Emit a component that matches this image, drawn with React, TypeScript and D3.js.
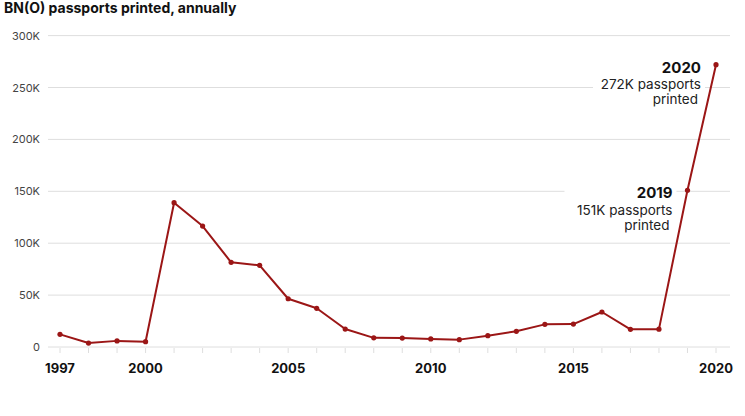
import * as d3 from 'd3'

// ── data ─────────────────────────────────────────────────────────────────────
const YEARS = [
  1997, 1998, 1999, 2000, 2001, 2002, 2003, 2004, 2005, 2006, 2007, 2008,
  2009, 2010, 2011, 2012, 2013, 2014, 2015, 2016, 2017, 2018, 2019, 2020,
]
const PRINTED = [
  12200, 3800, 5900, 5100, 139000, 116500, 81600, 78700, 46500, 37300, 17300, 8800,
  8600, 7800, 7100, 10900, 15100, 21800, 22100, 33700, 17000, 17200, 151000, 272000,
]
const Y_TICKS = [0, 50000, 100000, 150000, 200000, 250000, 300000]
const X_LABELS = [1997, 2000, 2005, 2010, 2015, 2020]
const TITLE = 'BN(O) passports printed, annually'
const NOTES = [
  { year: 2019, lines: ['151K passports', 'printed'] },
  { year: 2020, lines: ['272K passports', 'printed'] },
]

// ── constants ────────────────────────────────────────────────────────────────
const W = 745
const H = 416
const FONT = 'Inter, "Open Sans", sans-serif'
const C_LINE = '#9b1616'
const C_GRID = '#dedede'
const C_TICK = '#444'

export default function App() {
  const x = d3.scaleLinear().domain([1997, 2020]).range([60, 716])
  const y = d3.scaleLinear().domain([0, 300000]).range([347, 35.6])
  const pts = YEARS.map((yr, i) => ({ yr, v: PRINTED[i] }))
  const line = d3.line<typeof pts[0]>().x(d => x(d.yr)).y(d => y(d.v))

  return (
    <svg width={W} height={H} style={{ position: 'absolute', left: 0, top: 0, background: '#fff' }} fontFamily={FONT}>
      <text x={4} y={13} fontSize={14} fontWeight={700} fill="#111">{TITLE}</text>

      {/* grid */}
      {Y_TICKS.map(t => (
        <g key={t}>
          <line x1={48} x2={730} y1={y(t)} y2={y(t)} stroke={C_GRID} strokeWidth={1} />
          <text x={40} y={y(t) + 4} textAnchor="end" fontSize={11} fill={C_TICK}>
            {t === 0 ? '0' : `${t / 1000}K`}
          </text>
        </g>
      ))}

      {/* x ticks */}
      {YEARS.map(yr => (
        <line key={yr} x1={x(yr)} x2={x(yr)} y1={348} y2={353} stroke={C_GRID} />
      ))}
      {X_LABELS.map(yr => (
        <text key={yr} x={x(yr)} y={373} textAnchor="middle" fontSize={13} fontWeight={700} fill="#111">{yr}</text>
      ))}

      {/* annotations */}
      {NOTES.map(n => {
        const v = PRINTED[YEARS.indexOf(n.year)]
        const ax = x(n.year) - 15
        const ay = y(v) + 8
        return (
          <g key={n.year}>
            <rect x={ax - 108} y={ay - 15} width={112} height={50} fill="#fff" />
            <text x={ax} y={ay} textAnchor="end" fontSize={15} fontWeight={700} fill="#111">{n.year}</text>
            {n.lines.map((l, i) => (
              <text key={i} x={ax - (i === 1 ? 3 : 0)} y={ay + 16.5 + i * 15} textAnchor="end" fontSize={13.5} fill="#222">{l}</text>
            ))}
          </g>
        )
      })}

      <path d={line(pts) ?? ''} fill="none" stroke={C_LINE} strokeWidth={2} strokeLinejoin="round" />
      {pts.map(d => (
        <circle key={d.yr} cx={x(d.yr)} cy={y(d.v)} r={2.6} fill={C_LINE} />
      ))}
    </svg>
  )
}
